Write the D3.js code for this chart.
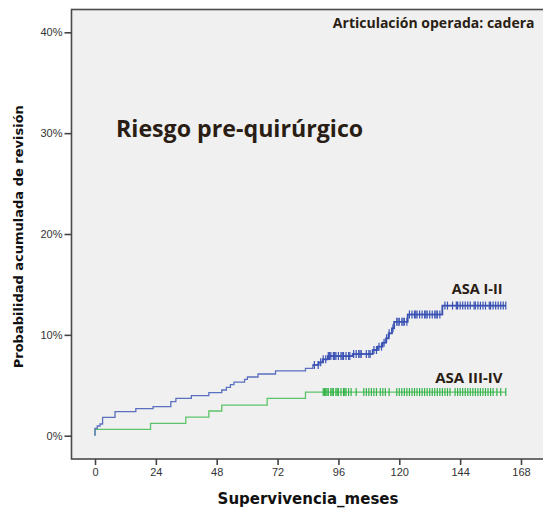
<!DOCTYPE html>
<html>
<head>
<meta charset="utf-8">
<script src="https://cdn.jsdelivr.net/npm/d3@7"></script>
<style>
  body { margin: 0; background: #fff; }
  svg { display: block; }
</style>
</head>
<body>
<div id="chart"></div>
<script>
// step points: [months, cumulative %]
var asa12Steps = [[0, 0], [0, 0.73], [0.9, 0.96], [2, 1.16], [3, 1.82], [7.9, 2.38], [16.1, 2.68],
  [22.9, 2.88], [29.9, 3.37], [31.9, 3.7], [38, 3.97], [44.9, 4.27], [50, 4.53], [51.8, 4.8],
  [53.4, 5.06], [54.8, 5.32], [59, 5.59], [60.1, 5.82], [64.3, 6.12], [71.2, 6.42], [83, 6.68],
  [85.9, 7.01], [88.2, 7.28], [89.8, 7.57], [91.8, 7.9], [101.6, 8.1], [109.5, 8.5], [111.5, 8.83],
  [113.4, 9.22], [114.8, 9.66], [115.8, 10.15], [117.1, 10.65], [118, 11.3], [123.3, 12.02],
  [137, 12.9], [162, 12.9]];
var asa34Steps = [[0, 0], [0, 0.63], [21.9, 1.23], [35.8, 1.85], [44.9, 2.45], [50, 3.04],
  [67.9, 3.7], [83, 4.33], [162, 4.33]];

// censored cases (months)
var asa12Censored = [86.5, 88, 89, 90, 91, 92, 92.5, 93, 94, 94.5, 95, 96, 97, 97.5, 98, 99, 100,
  100.5, 102, 103, 104, 104.5, 105, 107, 108, 108.5, 110, 111, 112, 113, 114, 115, 116, 117.5,
  119, 119.5, 120, 121, 121.5, 122, 123, 124, 125, 126, 126.5, 127, 128, 129, 130, 130.5, 131,
  132, 133, 134, 134.5, 135, 136, 138, 139, 141, 142.5, 143, 144, 145, 146, 147, 148, 149.5,
  150, 151, 152, 153, 154, 155.5, 156, 157, 158, 159, 160, 161, 162];
var asa34Censored = [90, 90.5, 91, 91.5, 92, 93, 93.5, 94, 95, 95.5, 96, 97, 98, 98.5, 99, 100,
  101, 103, 106, 107, 108, 109, 110, 111, 112.5, 113.5, 114.5, 116, 119, 120, 121, 122, 123, 124,
  125, 126, 127, 128, 129, 130, 131, 132, 133, 134, 135, 136, 137, 138, 139, 140, 142, 143, 144,
  145, 146, 147, 148, 149, 150, 151, 152, 153, 154, 155, 156, 157, 158.5, 160, 162];

var xTicks = [0, 24, 48, 72, 96, 120, 144, 168];
var yTicks = [0, 10, 20, 30, 40];

var W = 543, H = 514;
var frame = { left: 71.5, top: 9.5, right: 560, bottom: 459 };

var svg = d3.select("#chart").append("svg")
    .attr("width", W)
    .attr("height", H);

var x = d3.scaleLinear().domain([0, 168]).range([95, 521]);
var y = d3.scaleLinear().domain([0, 40]).range([435.7, 32.3]);

// plot background + frame
svg.append("rect")
    .attr("x", frame.left).attr("y", frame.top)
    .attr("width", frame.right - frame.left)
    .attr("height", frame.bottom - frame.top)
    .attr("fill", "#f0f0f0")
    .attr("stroke", "#4a4a4a")
    .attr("stroke-width", 1.6);

// axes
var xAxis = svg.append("g")
    .attr("transform", "translate(0," + frame.bottom + ")")
    .call(d3.axisBottom(x).tickValues(xTicks).tickSize(6).tickSizeOuter(0));
xAxis.select(".domain").remove();

var yAxis = svg.append("g")
    .attr("transform", "translate(" + frame.left + ",0)")
    .call(d3.axisLeft(y).tickValues(yTicks).tickSize(7).tickFormat(function(d) { return d + "%"; }));
yAxis.select(".domain").remove();

svg.selectAll(".tick line").attr("stroke", "#444").attr("stroke-width", 1.6);
svg.selectAll(".tick text")
    .attr("fill", "#333")
    .style("font-family", "'Liberation Sans', Arial, sans-serif")
    .style("font-size", "11px");
xAxis.selectAll(".tick text").attr("dy", "0.71em").attr("y", 9);
yAxis.selectAll(".tick text").attr("x", -9);

// curves
var line = d3.line()
    .x(function(d) { return x(d[0]); })
    .y(function(d) { return y(d[1]); })
    .curve(d3.curveStepAfter);

var bis = d3.bisector(function(d) { return d[0]; }).right;
function valueAt(steps, t) {
  var i = bis(steps, t);
  return steps[Math.max(0, i - 1)][1];
}

var groups = [
  { steps: asa34Steps, cens: asa34Censored, line: "#5cc468", mark: "#33b347" },
  { steps: asa12Steps, cens: asa12Censored, line: "#5a6fc0", mark: "#3a52b4" }
];

groups.forEach(function(g) {
  svg.append("path")
      .attr("d", line(g.steps))
      .attr("fill", "none")
      .attr("stroke", g.line)
      .attr("stroke-width", 1.3);

  svg.append("g").selectAll("line")
      .data(g.cens)
      .enter()
      .append("line")
      .attr("x1", function(d) { return x(d); })
      .attr("x2", function(d) { return x(d); })
      .attr("y1", function(d) { return y(valueAt(g.steps, d)) - 4; })
      .attr("y2", function(d) { return y(valueAt(g.steps, d)) + 4; })
      .attr("stroke", g.mark)
      .attr("stroke-width", 1.2);

  svg.append("path")
      .attr("d", line(g.steps.filter(function(d) { return d[0] >= 85; })))
      .attr("fill", "none")
      .attr("stroke", g.mark)
      .attr("stroke-width", 1.7);
});

// texts
var dark = "#2a1d14";
var labelFont = "'Open Sans', Lato, sans-serif";
svg.append("text")
    .attr("x", 116).attr("y", 136.5)
    .attr("fill", dark)
    .style("font-family", labelFont)
    .style("font-weight", "bold")
    .style("font-size", "23.2px")
    .text("Riesgo pre-quirúrgico");

svg.append("text")
    .attr("x", 534.5).attr("y", 27.5)
    .attr("text-anchor", "end")
    .attr("fill", dark)
    .style("font-family", labelFont)
    .style("font-weight", "bold")
    .style("font-size", "14px")
    .text("Articulación operada: cadera");

svg.append("text")
    .attr("x", 502.5).attr("y", 294)
    .attr("text-anchor", "end")
    .attr("fill", dark)
    .style("font-family", labelFont)
    .style("font-weight", "bold")
    .style("font-size", "14.5px")
    .text("ASA I-II");

svg.append("text")
    .attr("x", 502.5).attr("y", 382.7)
    .attr("text-anchor", "end")
    .attr("fill", dark)
    .style("font-family", labelFont)
    .style("font-weight", "bold")
    .style("font-size", "15px")
    .text("ASA III-IV");

svg.append("text")
    .attr("x", 308).attr("y", 504)
    .attr("text-anchor", "middle")
    .attr("fill", "#111")
    .style("font-family", "'DejaVu Sans', Verdana, sans-serif")
    .style("font-weight", "bold")
    .style("font-size", "15px")
    .text("Supervivencia_meses");

svg.append("text")
    .attr("transform", "translate(23,236.7) rotate(-90)")
    .attr("text-anchor", "middle")
    .attr("fill", "#111")
    .style("font-family", "'DejaVu Sans', Verdana, sans-serif")
    .style("font-weight", "bold")
    .style("font-size", "13px")
    .text("Probabilidad acumulada de revisión");
</script>
</body>
</html>
